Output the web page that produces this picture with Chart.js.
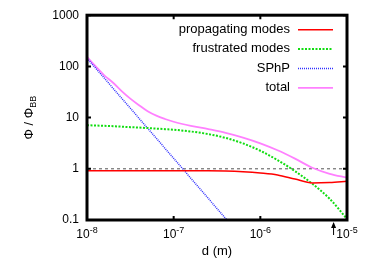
<!DOCTYPE html>
<html>
<head>
<meta charset="utf-8">
<script src="https://cdn.jsdelivr.net/npm/chart.js@4.4.1/dist/chart.umd.min.js"></script>
<style>
  html, body { margin: 0; padding: 0; background: #fff; }
  #wrap { width: 374px; height: 262px; }
</style>
</head>
<body>
<div id="wrap"><canvas id="flux-chart"></canvas></div>
<script>
// --- Data ---
const distances = [1e-8, 1.26e-8, 1.58e-8, 2e-8, 2.51e-8, 3.16e-8, 3.98e-8, 5.01e-8, 6.31e-8, 7.94e-8,
                   1e-7, 1.58e-7, 2.51e-7, 3.98e-7, 6.31e-7,
                   1e-6, 1.58e-6, 2.51e-6, 3.98e-6, 6.31e-6, 1e-5];
const propagating = [0.92, 0.92, 0.92, 0.92, 0.92, 0.92, 0.92, 0.92, 0.92, 0.92,
                     0.92, 0.92, 0.92, 0.91, 0.88,
                     0.83, 0.76, 0.63, 0.53, 0.54, 0.57];
const frustrated = [7.1, 7.0, 6.9, 6.8, 6.65, 6.5, 6.4, 6.25, 6.1, 5.95,
                    5.8, 5.35, 4.76, 4.01, 3.13,
                    2.25, 1.48, 0.90, 0.51, 0.26, 0.105];
const total = [153, 100, 67, 48, 33, 23.5, 17.5, 13.3, 10.9, 9.4,
               8.3, 6.9, 5.95, 5.05, 4.08,
               3.15, 2.3, 1.58, 1.05, 0.80, 0.67];
const sphpDistances = [1e-8, 1e-7, 5.01e-7];
const sphp = [145, 1.6, 0.068];
const refDistances = [1e-8, 1e-5];
const refLine = [1, 1];

const xTicks = [1e-8, 1e-7, 1e-6, 1e-5];
const yTicks = [0.1, 1, 10, 100, 1000];
const arrowAt = 7e-6;

const FONT = '"Liberation Sans", Arial, Helvetica, sans-serif';

function toPoints(xs, ys) {
      return xs.map((x, i) => ({ x: x, y: ys[i] }));
}

// frame + inward tick marks on all four sides, like gnuplot
const framePlugin = {
      id: 'frame',
      afterDatasetsDraw(chart) {
            const { ctx, chartArea: a, scales: { x, y } } = chart;
            ctx.save();
            ctx.strokeStyle = '#000';
            ctx.lineWidth = 2;
            ctx.beginPath();
            xTicks.forEach(v => {
                  const px = x.getPixelForValue(v);
                  ctx.moveTo(px, a.bottom); ctx.lineTo(px, a.bottom - 4);
                  ctx.moveTo(px, a.top); ctx.lineTo(px, a.top + 4);
            });
            yTicks.forEach(v => {
                  const py = y.getPixelForValue(v);
                  ctx.moveTo(a.left, py); ctx.lineTo(a.left + 4, py);
                  ctx.moveTo(a.right, py); ctx.lineTo(a.right - 4, py);
            });
            ctx.stroke();
            ctx.lineWidth = 3;
            ctx.strokeRect(a.left, a.top, a.right - a.left, a.bottom - a.top);

            // small arrow under the x axis
            const ax = x.getPixelForValue(arrowAt);
            ctx.lineWidth = 1;
            ctx.beginPath();
            ctx.moveTo(ax, a.bottom + 15);
            ctx.lineTo(ax, a.bottom + 3);
            ctx.stroke();
            ctx.fillStyle = '#000';
            ctx.beginPath();
            ctx.moveTo(ax, a.bottom + 2);
            ctx.lineTo(ax - 2.5, a.bottom + 8);
            ctx.lineTo(ax + 2.5, a.bottom + 8);
            ctx.closePath();
            ctx.fill();
            ctx.restore();
      }
};

// x tick labels as powers of ten, y title with subscript, gnuplot-style key
const labelPlugin = {
      id: 'labels',
      afterDraw(chart) {
            const { ctx, chartArea: a, scales: { x } } = chart;
            ctx.save();
            ctx.fillStyle = '#000';
            ctx.textBaseline = 'alphabetic';
            ctx.textAlign = 'left';
            xTicks.forEach(v => {
                  const exp = String(Math.round(Math.log10(v)));
                  ctx.font = '12px ' + FONT;
                  const wBase = ctx.measureText('10').width;
                  ctx.font = '9px ' + FONT;
                  const wExp = ctx.measureText(exp).width;
                  const left = x.getPixelForValue(v) - (wBase + wExp) / 2;
                  ctx.font = '12px ' + FONT;
                  ctx.fillText('10', left, a.bottom + 17.5);
                  ctx.font = '9px ' + FONT;
                  ctx.fillText(exp, left + wBase, a.bottom + 12.5);
            });

            // y axis title: Φ / Φ_BB
            ctx.translate(28, (a.top + a.bottom) / 2);
            ctx.rotate(-Math.PI / 2);
            ctx.font = '13px ' + FONT;
            const main = 'Φ / Φ';
            const wMain = ctx.measureText(main).width;
            ctx.font = '9px ' + FONT;
            const wSub = ctx.measureText('BB').width;
            const start = -(wMain + wSub) / 2;
            ctx.font = '13px ' + FONT;
            ctx.fillText(main, start, 4.5);
            ctx.font = '9px ' + FONT;
            ctx.fillText('BB', start + wMain, 8);
            ctx.restore();

            // key
            ctx.save();
            ctx.font = '13px ' + FONT;
            ctx.textAlign = 'right';
            ctx.textBaseline = 'middle';
            let row = 0;
            chart.data.datasets.forEach(ds => {
                  if (!ds.label) return;
                  const yy = a.top + 14 + row * 19.4;
                  ctx.fillStyle = '#000';
                  ctx.fillText(ds.label, a.right - 57, yy);
                  ctx.strokeStyle = ds.borderColor;
                  ctx.lineWidth = ds.borderWidth;
                  ctx.setLineDash(ds.borderDash || []);
                  ctx.beginPath();
                  ctx.moveTo(a.right - 49, yy + 0.5);
                  ctx.lineTo(a.right - 14, yy + 0.5);
                  ctx.stroke();
                  row++;
            });
            ctx.restore();
      }
};

function drawFluxChart() {
      const ctx = document.getElementById('flux-chart').getContext('2d');
      Chart.defaults.font.family = FONT;
      Chart.defaults.color = '#000';

      new Chart(ctx, {
            type: 'line',
            data: {
                  datasets: [
                        {
                              label: 'propagating modes',
                              data: toPoints(distances, propagating),
                              borderColor: '#ff0000',
                              borderWidth: 1.5,
                              cubicInterpolationMode: 'monotone',
                        },
                        {
                              label: 'frustrated modes',
                              data: toPoints(distances, frustrated),
                              borderColor: '#11dd11',
                              borderWidth: 2,
                              borderDash: [2, 1.5],
                              cubicInterpolationMode: 'monotone',
                        },
                        {
                              label: 'SPhP',
                              data: toPoints(sphpDistances, sphp),
                              borderColor: '#3030ff',
                              borderWidth: 1.5,
                              borderDash: [1, 1],
                        },
                        {
                              label: 'total',
                              data: toPoints(distances, total),
                              borderColor: '#ff80ff',
                              borderWidth: 1.8,
                              cubicInterpolationMode: 'monotone',
                        },
                        {
                              label: '', // blackbody reference level
                              data: toPoints(refDistances, refLine),
                              borderColor: '#555555',
                              borderWidth: 1,
                              borderDash: [3, 3],
                        }
                  ]
            },
            options: {
                  responsive: true,
                  maintainAspectRatio: false,
                  animation: false,
                  layout: { padding: { top: 15, right: 27, left: 0, bottom: 0 } },
                  elements: {
                        point: { radius: 0 },
                        line: { fill: false }
                  },
                  scales: {
                        x: {
                              type: 'logarithmic',
                              min: 1e-8,
                              max: 1e-5,
                              grid: { display: false, drawTicks: false },
                              border: { display: false },
                              ticks: { display: false },
                              afterBuildTicks: s => { s.ticks = xTicks.map(v => ({ value: v })); },
                              afterFit: s => { s.height = 42; },
                              title: {
                                    display: true,
                                    text: 'd (m)',
                                    font: { size: 13 },
                                    padding: { top: 0, bottom: 3 }
                              }
                        },
                        y: {
                              type: 'logarithmic',
                              min: 0.1,
                              max: 1000,
                              grid: { display: false, drawTicks: false },
                              border: { display: false },
                              afterBuildTicks: s => { s.ticks = yTicks.map(v => ({ value: v })); },
                              afterFit: s => { s.width = 87; },
                              ticks: {
                                    padding: 8,
                                    font: { size: 12 },
                                    callback: v => String(v)
                              }
                        }
                  },
                  plugins: {
                        legend: { display: false },
                        tooltip: { enabled: false }
                  }
            },
            plugins: [framePlugin, labelPlugin]
      });
}

drawFluxChart();
</script>
</body>
</html>
